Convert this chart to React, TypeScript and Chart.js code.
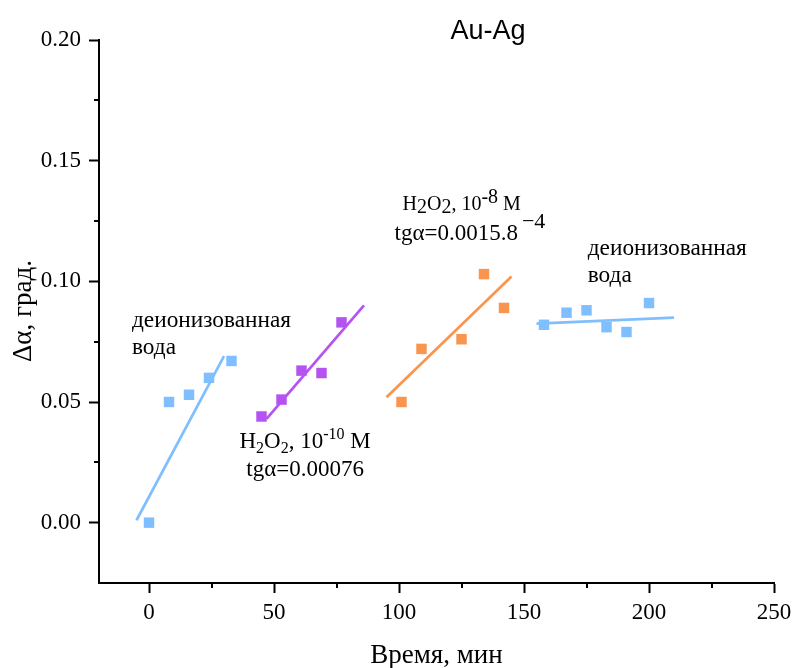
import React, { useEffect, useRef } from "react";
import { Chart, registerables } from "chart.js";

Chart.register(...registerables);

// ---- data ----
const water1Time = [0, 8, 16, 24, 33];
const water1Delta = [0.0, 0.05, 0.053, 0.06, 0.067];
const h2o2LowTime = [45, 53, 61, 69, 77];
const h2o2LowDelta = [0.044, 0.051, 0.063, 0.062, 0.083];
const h2o2HighTime = [101, 109, 125, 134, 142];
const h2o2HighDelta = [0.05, 0.072, 0.076, 0.103, 0.089];
const water2Time = [158, 167, 175, 183, 191, 200];
const water2Delta = [0.082, 0.087, 0.088, 0.081, 0.079, 0.091];

const water1FitTime = [-5, 30];
const water1FitDelta = [0.001, 0.069];
const h2o2LowFitTime = [47, 86];
const h2o2LowFitDelta = [0.043, 0.09];
const h2o2HighFitTime = [95, 145];
const h2o2HighFitDelta = [0.052, 0.102];
const water2FitTime = [155, 210];
const water2FitDelta = [0.0825, 0.085];

const xMajorTicks = [0, 50, 100, 150, 200, 250];
const xMajorLabels = ["0", "50", "100", "150", "200", "250"];
const xMinorTicks = [25, 75, 125, 175, 225];
const yMajorTicks = [0, 0.05, 0.1, 0.15, 0.2];
const yMajorLabels = ["0.00", "0.05", "0.10", "0.15", "0.20"];
const yMinorTicks = [0.025, 0.075, 0.125, 0.175];

const chartTitle = "Au-Ag";
const xTitle = "Время, мин";
const yTitle = "Δα, град.";

// ---- styles ----
const BLUE = "#80BFFF";
const PURPLE = "#B552F2";
const ORANGE = "#FA9550";
const SERIF = '"Liberation Serif", "DejaVu Serif", serif';
const SANS = '"Liberation Sans", Arial, sans-serif';

const zip = (xs: number[], ys: number[]) => xs.map((x, i) => ({ x, y: ys[i] }));

type Run = { t: string; size: number; dy?: number; gap?: number };
type Line = { x: number; y: number; runs: Run[] };

// annotation anchors in data coordinates (left, baseline)
const annotations: Line[] = [
  { x: -6.8, y: 0.081, runs: [{ t: "деионизованная", size: 23.3 }] },
  { x: -6.8, y: 0.0697, runs: [{ t: "вода", size: 23.3 }] },
  {
    x: 36.2,
    y: 0.0311,
    runs: [
      { t: "H", size: 23 },
      { t: "2", size: 16, dy: 5 },
      { t: "O", size: 23 },
      { t: "2", size: 16, dy: 5 },
      { t: ", 10", size: 23 },
      { t: "-10", size: 16, dy: -9 },
      { t: " M", size: 23 },
    ],
  },
  { x: 38.9, y: 0.0195, runs: [{ t: "tgα=0.00076", size: 23 }] },
  {
    x: 101.4,
    y: 0.1295,
    runs: [
      { t: "H", size: 20 },
      { t: "2", size: 20, dy: 3 },
      { t: "O", size: 20 },
      { t: "2", size: 20, dy: 3 },
      { t: ", 10", size: 20 },
      { t: "-8", size: 20, dy: -7 },
      { t: " M", size: 20 },
    ],
  },
  {
    x: 98.2,
    y: 0.117,
    runs: [
      { t: "tgα=0.0015.8", size: 23 },
      { t: "−4", size: 22, dy: -12, gap: 4 },
    ],
  },
  { x: 175.5, y: 0.1108, runs: [{ t: "деионизованная", size: 23.3 }] },
  { x: 175.5, y: 0.0996, runs: [{ t: "вода", size: 23.3 }] },
];

const near = (a: number, b: number) => Math.abs(a - b) < 1e-9;

const decorPlugin = {
  id: "decor",
  afterDraw(chart: any) {
    const ctx = chart.ctx;
    const xs = chart.scales.x;
    const ys = chart.scales.y;
    const area = chart.chartArea;
    ctx.save();
    // minor ticks
    ctx.strokeStyle = "#000";
    ctx.lineWidth = 2;
    ctx.beginPath();
    xMinorTicks.forEach((v) => {
      const px = Math.round(xs.getPixelForValue(v));
      ctx.moveTo(px, area.bottom);
      ctx.lineTo(px, area.bottom + 5);
    });
    yMinorTicks.forEach((v) => {
      const py = Math.round(ys.getPixelForValue(v));
      ctx.moveTo(area.left - 5, py);
      ctx.lineTo(area.left, py);
    });
    ctx.stroke();

    ctx.fillStyle = "#000";
    // title
    ctx.font = `27px ${SANS}`;
    ctx.textAlign = "center";
    ctx.textBaseline = "alphabetic";
    ctx.fillText(chartTitle, area.left + 389, 39);
    // x title
    ctx.font = `27px ${SERIF}`;
    ctx.fillText(xTitle, (area.left + area.right) / 2, 663);
    // y title
    ctx.save();
    ctx.translate(31, 311);
    ctx.rotate(-Math.PI / 2);
    ctx.fillText(yTitle, 0, 0);
    ctx.restore();

    // annotations
    ctx.textAlign = "left";
    annotations.forEach((ln) => {
      let cx = xs.getPixelForValue(ln.x);
      const by = ys.getPixelForValue(ln.y);
      ln.runs.forEach((r) => {
        ctx.font = `${r.size}px ${SERIF}`;
        cx += r.gap || 0;
        ctx.fillText(r.t, cx, by + (r.dy || 0));
        cx += ctx.measureText(r.t).width;
      });
    });
    ctx.restore();
  },
};

export default function App() {
  const ref = useRef<HTMLCanvasElement | null>(null);
  useEffect(() => {
    if (!ref.current) return;
    const pts = (data: any[], color: string) => ({
      data,
      showLine: false,
      pointStyle: "rect",
      pointRadius: 7.4,
      pointBorderWidth: 0,
      backgroundColor: color,
      borderColor: color,
    });
    const fit = (data: any[], color: string) => ({
      data,
      showLine: true,
      pointRadius: 0,
      borderWidth: 2.7,
      borderColor: color,
      backgroundColor: color,
    });
    const chart = new Chart(ref.current, {
      type: "scatter",
      data: {
        datasets: [
          fit(zip(water1FitTime, water1FitDelta), BLUE),
          fit(zip(h2o2LowFitTime, h2o2LowFitDelta), PURPLE),
          fit(zip(h2o2HighFitTime, h2o2HighFitDelta), ORANGE),
          fit(zip(water2FitTime, water2FitDelta), BLUE),
          pts(zip(water1Time, water1Delta), BLUE),
          pts(zip(h2o2LowTime, h2o2LowDelta), PURPLE),
          pts(zip(h2o2HighTime, h2o2HighDelta), ORANGE),
          pts(zip(water2Time, water2Delta), BLUE),
        ] as any,
      },
      options: {
        animation: false,
        responsive: false,
        layout: { padding: { left: 0, top: 40, right: 18, bottom: 0 } },
        plugins: { legend: { display: false }, tooltip: { enabled: false }, title: { display: false } },
        scales: {
          x: {
            type: "linear",
            min: -20,
            max: 250,
            afterBuildTicks: (s: any) => {
              s.ticks = xMajorTicks.map((v) => ({ value: v }));
            },
            afterFit: (s: any) => {
              s.height = 85;
              s.paddingRight = 0;
              s.paddingLeft = 0;
            },
            ticks: {
              autoSkip: false,
              maxRotation: 0,
              padding: 6,
              color: "#000",
              font: { family: SERIF, size: 23 },
              callback: (v: any) => {
                const i = xMajorTicks.findIndex((t) => near(t, Number(v)));
                return i >= 0 ? xMajorLabels[i] : "";
              },
            },
            grid: {
              drawOnChartArea: false,
              drawTicks: true,
              tickLength: 10,
              tickWidth: 2,
              tickColor: "#000",
            },
            border: { display: true, color: "#000", width: 2 },
          },
          y: {
            type: "linear",
            min: -0.025,
            max: 0.2,
            afterBuildTicks: (s: any) => {
              s.ticks = yMajorTicks.map((v) => ({ value: v }));
            },
            afterFit: (s: any) => {
              s.width = 99;
              s.paddingTop = 0;
              s.paddingBottom = 0;
            },
            ticks: {
              autoSkip: false,
              padding: 8,
              color: "#000",
              font: { family: SERIF, size: 23 },
              callback: (v: any) => {
                const i = yMajorTicks.findIndex((t) => near(t, Number(v)));
                return i >= 0 ? yMajorLabels[i] : "";
              },
            },
            grid: {
              drawOnChartArea: false,
              drawTicks: true,
              tickLength: 10,
              tickWidth: 2,
              tickColor: "#000",
            },
            border: { display: true, color: "#000", width: 2 },
          },
        },
      } as any,
      plugins: [decorPlugin],
    });
    return () => chart.destroy();
  }, []);
  return (
    <div style={{ position: "absolute", left: 0, top: 0, width: 792, height: 668, background: "#fff" }}>
      <canvas ref={ref} width={792} height={668} style={{ display: "block", width: 792, height: 668 }} />
    </div>
  );
}
